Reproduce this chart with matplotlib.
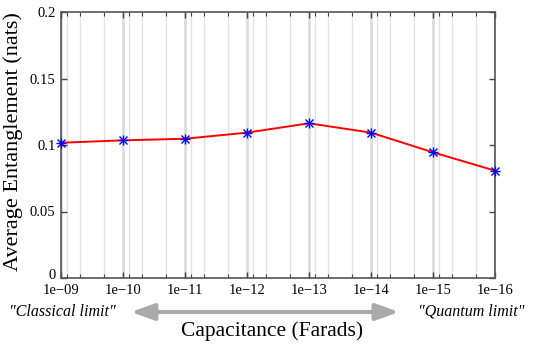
import matplotlib
matplotlib.use("Agg")
import matplotlib.pyplot as plt
import numpy as np
from matplotlib.ticker import FixedLocator, FixedFormatter, NullFormatter
from matplotlib.transforms import ScaledTranslation

capacitance = [1e-9, 1e-10, 1e-11, 1e-12, 1e-13, 1e-14, 1e-15, 1e-16]
entanglement = [0.1017, 0.1035, 0.1047, 0.1093, 0.1163, 0.1093, 0.0945, 0.0807]
xtick_labels = ["1e\u221209", "1e\u221210", "1e\u221211", "1e\u221212",
                "1e\u221213", "1e\u221214", "1e\u221215", "1e\u221216"]
ytick_values = [0, 0.05, 0.1, 0.15, 0.2]
ytick_labels = ["0", "0.05", "0.1", "0.15", "0.2"]
minor_mults = [8, 5, 2]

plt.rcParams['font.family'] = ['Liberation Serif', 'DejaVu Serif']
plt.rcParams['mathtext.fontset'] = 'stix'

fig = plt.figure(figsize=(5.38, 3.45), dpi=100)
ax = fig.add_axes([61/538, 1 - 278/345, (495-61)/538, (278-12)/345])

ax.set_xscale('log')
ax.set_xlim(1e-9, 1e-16)
ax.set_ylim(0, 0.2)

minor_pos = [m * c / 10 for c in capacitance[:-1] for m in minor_mults]
for c in capacitance:
    ax.axvline(c, color='#dcdcdc', lw=2.0, zorder=0)
for p in minor_pos:
    ax.axvline(p, color='#e2e2e2', lw=1.0, zorder=0)

ax.plot(capacitance, entanglement, color='red', lw=1.4, zorder=3, clip_on=False)
ax.plot(capacitance, entanglement, linestyle='none', marker='x', color='blue',
        ms=5.5, mew=1.0, zorder=4, clip_on=False)
ax.plot(capacitance, entanglement, linestyle='none', marker='+', color='blue',
        ms=6.5, mew=1.0, zorder=4, clip_on=False)

ax.xaxis.set_major_locator(FixedLocator(capacitance))
ax.xaxis.set_major_formatter(FixedFormatter(xtick_labels))
ax.xaxis.set_minor_locator(FixedLocator(minor_pos))
ax.xaxis.set_minor_formatter(NullFormatter())
ax.set_yticks(ytick_values)
ax.set_yticklabels(ytick_labels)

ax.tick_params(which='both', direction='in', top=True, right=True,
               labelsize=10.5, color='#444444', pad=4)
ax.tick_params(which='major', length=4, width=1.0)
ax.tick_params(which='minor', length=3, width=0.8)
for s in ax.spines.values():
    s.set_color('#555555')
    s.set_linewidth(1.2)

zero_label = ax.get_yticklabels()[0]
zero_label.set_transform(zero_label.get_transform() +
                         ScaledTranslation(0, 3/72, fig.dpi_scale_trans))

fig.text(13/538, 1 - 142/345, "Average Entanglement (nats)", rotation=90,
         ha='center', va='center', fontsize=16)
fig.text(272/538, 1 - 331/345, "Capacitance (Farads)", ha='center', va='center',
         fontsize=15.5)
fig.text(62/538, 1 - 312/345, "\"Classical limit\"", ha='center', va='center',
         fontsize=11.5, style='italic')
fig.text(471/538, 1 - 312/345, "\"Quantum limit\"", ha='center', va='center',
         fontsize=11.5, style='italic')
fig.patches.append(matplotlib.patches.FancyArrowPatch(
    (128/538, 1 - 312/345), (402/538, 1 - 312/345), transform=fig.transFigure,
    arrowstyle='<|-|>,head_length=14,head_width=5', color='#aaaaaa', lw=3,
    mutation_scale=1, figure=fig))

fig.savefig("out.png", dpi=100)
